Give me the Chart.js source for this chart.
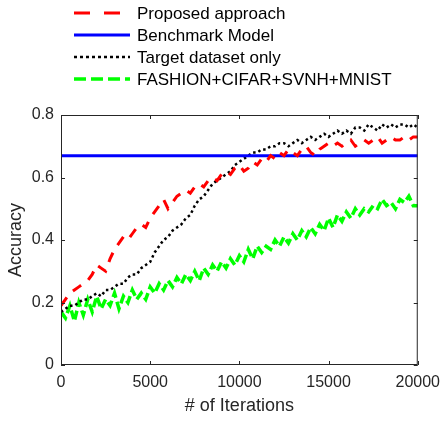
<!DOCTYPE html>
<html>
<head>
<meta charset="utf-8">
<script src="https://cdn.jsdelivr.net/npm/chart.js@4.4.0/dist/chart.umd.min.js"></script>
<style>
  html, body { margin: 0; padding: 0; background: #fff; }
</style>
</head>
<body>
<canvas id="accChart" width="448" height="422"></canvas>
<script>
// iterations axis, one sample every 250 iterations
const iterations = Array.from({ length: 81 }, (_, i) => i * 250);

const proposed = [
  0.19, 0.21, 0.23, 0.24, 0.25, 0.26, 0.27, 0.29, 0.32, 0.31,
  0.30, 0.34, 0.37, 0.39, 0.41, 0.40, 0.42, 0.44, 0.45, 0.44,
  0.47, 0.49, 0.51, 0.53, 0.50, 0.52, 0.54, 0.55, 0.56, 0.55,
  0.57, 0.58, 0.57, 0.59, 0.60, 0.59, 0.61, 0.62, 0.61, 0.63,
  0.64, 0.62, 0.63, 0.65, 0.64, 0.66, 0.65, 0.67, 0.66, 0.68,
  0.67, 0.69, 0.68, 0.67, 0.69, 0.70, 0.68, 0.67, 0.69, 0.70,
  0.71, 0.70, 0.71, 0.70, 0.71, 0.72, 0.70, 0.71, 0.72, 0.71,
  0.72, 0.73, 0.71, 0.72, 0.73, 0.72, 0.72, 0.73, 0.72, 0.73,
  0.73
];

const benchmark = 0.67;

const targetOnly = [
  0.17, 0.18, 0.19, 0.19, 0.20, 0.21, 0.21, 0.22, 0.23, 0.22,
  0.24, 0.24, 0.25, 0.26, 0.26, 0.28, 0.29, 0.29, 0.31, 0.32,
  0.33, 0.36, 0.38, 0.40, 0.41, 0.43, 0.44, 0.45, 0.47, 0.48,
  0.51, 0.53, 0.54, 0.56, 0.58, 0.59, 0.60, 0.61, 0.62, 0.64,
  0.65, 0.66, 0.67, 0.68, 0.68, 0.69, 0.69, 0.70, 0.70, 0.71,
  0.71, 0.70, 0.71, 0.72, 0.71, 0.72, 0.73, 0.72, 0.73, 0.74,
  0.73, 0.74, 0.75, 0.74, 0.75, 0.74, 0.76, 0.76, 0.75, 0.77,
  0.76, 0.75, 0.77, 0.76, 0.77, 0.76, 0.77, 0.77, 0.76, 0.77,
  0.76
];

const combined = [
  0.17, 0.15, 0.19, 0.14, 0.20, 0.16, 0.21, 0.17, 0.22, 0.18,
  0.21, 0.19, 0.23, 0.18, 0.22, 0.20, 0.24, 0.21, 0.23, 0.21,
  0.25, 0.23, 0.26, 0.24, 0.27, 0.25, 0.28, 0.26, 0.29, 0.27,
  0.30, 0.27, 0.31, 0.29, 0.32, 0.30, 0.33, 0.31, 0.34, 0.32,
  0.35, 0.33, 0.37, 0.34, 0.38, 0.36, 0.38, 0.37, 0.40, 0.38,
  0.41, 0.39, 0.42, 0.40, 0.43, 0.41, 0.44, 0.42, 0.45, 0.43,
  0.47, 0.44, 0.48, 0.46, 0.49, 0.47, 0.50, 0.48, 0.50, 0.49,
  0.51, 0.50, 0.53, 0.51, 0.52, 0.50, 0.53, 0.52, 0.54, 0.51,
  0.51
];

const xTicks = [0, 5000, 10000, 15000, 20000];
const yTicks = [0, 0.2, 0.4, 0.6, 0.8];

const axisColor = '#262626';
const fontFamily = 'Arial, "Liberation Sans", Helvetica, sans-serif';

const toPoints = vals => vals.map((v, i) => ({ x: iterations[i], y: v }));

// box around the axes, inward ticks on all four sides, and the legend block
const matlabAxes = {
  id: 'matlabAxes',
  afterDatasetsDraw(chart) {
    const { ctx, chartArea: a, scales } = chart;
    ctx.save();
    ctx.strokeStyle = axisColor;
    ctx.lineWidth = 1;
    ctx.strokeRect(a.left + 0.5, a.top + 0.5, a.right - a.left - 1, a.bottom - a.top - 1);
    ctx.beginPath();
    xTicks.forEach(t => {
      const px = Math.round(scales.x.getPixelForValue(t)) + 0.5;
      ctx.moveTo(px, a.bottom); ctx.lineTo(px, a.bottom - 4);
      ctx.moveTo(px, a.top); ctx.lineTo(px, a.top + 4);
    });
    yTicks.forEach(t => {
      const py = Math.round(scales.y.getPixelForValue(t)) + 0.5;
      ctx.moveTo(a.left, py); ctx.lineTo(a.left + 4, py);
      ctx.moveTo(a.right, py); ctx.lineTo(a.right - 4, py);
    });
    ctx.stroke();

    // legend
    ctx.font = '17px ' + fontFamily;
    ctx.textBaseline = 'middle';
    ctx.fillStyle = '#000';
    chart.data.datasets.forEach((ds, i) => {
      const y = 13 + i * 22;
      ctx.strokeStyle = ds.borderColor;
      ctx.lineWidth = ds.borderWidth;
      ctx.setLineDash(ds.legendDash || ds.borderDash || []);
      ctx.beginPath();
      ctx.moveTo(74, y); ctx.lineTo(130, y);
      ctx.stroke();
      ctx.setLineDash([]);
      ctx.fillText(ds.label, 137, y + 1);
    });
    ctx.restore();
  }
};

new Chart(document.getElementById('accChart').getContext('2d'), {
  type: 'line',
  data: {
    datasets: [
      {
        label: 'Proposed approach',
        data: toPoints(proposed),
        borderColor: '#ff0000',
        borderWidth: 3,
        borderDash: [10, 9],
        legendDash: [16, 14],
        pointRadius: 0,
        tension: 0
      },
      {
        label: 'Benchmark Model',
        data: [{ x: 0, y: benchmark }, { x: 20000, y: benchmark }],
        borderColor: '#0000ff',
        borderWidth: 3,
        pointRadius: 0
      },
      {
        label: 'Target dataset only',
        data: toPoints(targetOnly),
        borderColor: '#000000',
        borderWidth: 2.5,
        borderDash: [2.5, 3],
        legendDash: [3, 3],
        pointRadius: 0,
        tension: 0
      },
      {
        label: 'FASHION+CIFAR+SVNH+MNIST',
        data: toPoints(combined),
        borderColor: '#00ff00',
        borderWidth: 3.5,
        borderDash: [9, 4],
        legendDash: [12, 5],
        pointRadius: 0,
        tension: 0
      }
    ]
  },
  options: {
    responsive: false,
    animation: false,
    devicePixelRatio: 1,
    layout: { padding: { left: 0, top: 115, right: 25, bottom: 0 } },
    plugins: {
      legend: { display: false },
      tooltip: { enabled: false }
    },
    scales: {
      x: {
        type: 'linear',
        min: 0,
        max: 20000,
        afterFit: s => { s.height = 57; },
        afterBuildTicks: s => { s.ticks = xTicks.map(v => ({ value: v })); },
        grid: { display: false, drawTicks: false },
        border: { display: false },
        ticks: { color: axisColor, font: { size: 16, family: fontFamily }, padding: 8, maxRotation: 0, callback: v => String(v) },
        title: { display: true, text: '# of Iterations', color: axisColor, font: { size: 18, family: fontFamily }, padding: { top: 0, bottom: 5 } }
      },
      y: {
        min: 0,
        max: 0.8,
        afterFit: s => { s.width = 61; },
        afterBuildTicks: s => { s.ticks = yTicks.map(v => ({ value: v })); },
        grid: { display: false, drawTicks: false },
        border: { display: false },
        ticks: { color: axisColor, font: { size: 16, family: fontFamily }, padding: 7, callback: v => String(v) },
        title: { display: true, text: 'Accuracy', color: axisColor, font: { size: 18, family: fontFamily }, padding: { top: 5, bottom: 0 } }
      }
    }
  },
  plugins: [matlabAxes]
});
</script>
</body>
</html>
